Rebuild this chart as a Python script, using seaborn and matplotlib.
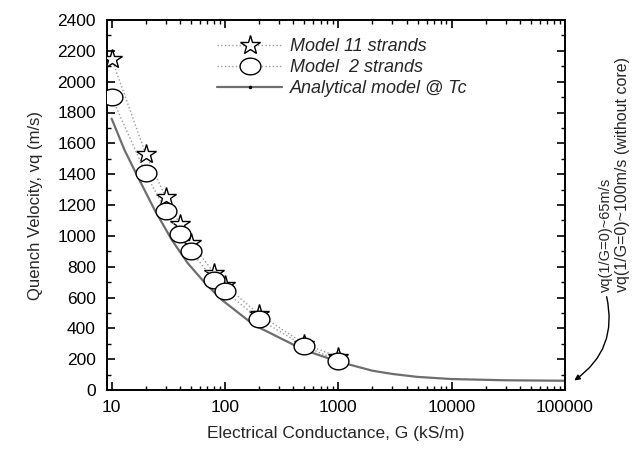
import numpy as np
import pandas as pd
import matplotlib
matplotlib.use("Agg")
import matplotlib.pyplot as plt
from matplotlib.lines import Line2D
from matplotlib.ticker import FixedLocator, FixedFormatter, NullFormatter, LogLocator, MultipleLocator
import seaborn as sns

# ---- data ----
g_model = [10, 20, 30, 40, 50, 80, 100, 200, 500, 1000]
vq_11_strands = [2150, 1530, 1250, 1075, 955, 760, 680, 490, 300, 215]
vq_2_strands = [1900, 1405, 1160, 1010, 900, 715, 640, 460, 285, 190]

g_analytical = [10, 13, 17, 24, 34, 47, 67, 94, 180, 500, 1000, 2000, 3000, 5000, 10000, 30000, 100000]
vq_analytical = [1760, 1556, 1383, 1167, 973, 822, 692, 584, 422, 259, 184, 125, 104, 85, 71, 63, 60]

x_ticks = [10, 100, 1000, 10000, 100000]
x_tick_labels = ["10", "100", "1000", "10000", "100000"]
y_ticks = [0, 200, 400, 600, 800, 1000, 1200, 1400, 1600, 1800, 2000, 2200, 2400]
y_tick_labels = [str(v) for v in y_ticks]

series_labels = ["Model 11 strands", "Model  2 strands", "Analytical model @ Tc"]
note_1 = "vq(1/G=0)~65m/s"
note_2 = "vq(1/G=0)~100m/s (without core)"

# ---- style ----
sns.set_style("ticks")
plt.rcParams["font.family"] = ["Liberation Sans", "DejaVu Sans"]

W, H = 632, 449
fig = plt.figure(figsize=(W / 100, H / 100), dpi=100)
ax = fig.add_axes([107 / W, (H - 390) / H, (565 - 107) / W, (390 - 20) / H])

df11 = pd.DataFrame({"G": g_model, "vq": vq_11_strands})
df2 = pd.DataFrame({"G": g_model, "vq": vq_2_strands})
dfa = pd.DataFrame({"G": g_analytical, "vq": vq_analytical})

# ellipse marker (wider than tall)
t = np.linspace(0, 2 * np.pi, 60)
ellipse = list(zip(1.25 * np.cos(t), np.sin(t)))

dot_color = "#9a9a9a"
an_color = "#6e6e6e"

sns.lineplot(data=dfa, x="G", y="vq", ax=ax, color=an_color, lw=1.6,
             sort=False, estimator=None, zorder=2)
sns.lineplot(data=df11, x="G", y="vq", ax=ax, color=dot_color, lw=1.0,
             linestyle=":", marker="*", markersize=15, markerfacecolor="white",
             markeredgecolor="black", markeredgewidth=1.0, sort=False,
             estimator=None, zorder=3)
sns.lineplot(data=df2, x="G", y="vq", ax=ax, color=dot_color, lw=1.0,
             linestyle=":", marker=ellipse, markersize=15, markerfacecolor="white",
             markeredgecolor="black", markeredgewidth=1.0, sort=False,
             estimator=None, zorder=4)

ax.set_xscale("log")
ax.set_xlim(9.1, 100000)
ax.set_ylim(0, 2400)

ax.xaxis.set_major_locator(FixedLocator(x_ticks))
ax.xaxis.set_major_formatter(FixedFormatter(x_tick_labels))
ax.xaxis.set_minor_locator(LogLocator(base=10, subs=np.arange(2, 10)))
ax.xaxis.set_minor_formatter(NullFormatter())
ax.yaxis.set_major_locator(FixedLocator(y_ticks))
ax.yaxis.set_major_formatter(FixedFormatter(y_tick_labels))
ax.yaxis.set_minor_locator(MultipleLocator(100))

ax.tick_params(which="both", direction="in", top=True, right=True, colors="black",
               labelsize=12.5)
ax.tick_params(which="major", length=6, width=1.2)
ax.tick_params(which="minor", length=3, width=1.0)
ax.tick_params(axis="y", pad=8)
ax.tick_params(axis="x", pad=7)
for s in ax.spines.values():
    s.set_visible(True)
    s.set_linewidth(1.4)
    s.set_color("black")

ax.set_xlabel("Electrical Conductance, G (kS/m)", fontsize=12.5, labelpad=8)
ax.set_ylabel("Quench Velocity, vq (m/s)", fontsize=12, labelpad=10)

handles = [
    Line2D([], [], color=dot_color, lw=1.0, linestyle=":", marker="*", markersize=15,
           markerfacecolor="white", markeredgecolor="black", markeredgewidth=1.0),
    Line2D([], [], color=dot_color, lw=1.0, linestyle=":", marker=ellipse, markersize=15,
           markerfacecolor="white", markeredgecolor="black", markeredgewidth=1.0),
    Line2D([], [], color=an_color, lw=1.6, marker=".", markersize=3,
           markerfacecolor="black", markeredgecolor="black"),
]
ax.legend(handles, series_labels, loc="upper left",
          bbox_to_anchor=((217 - 107) / 458, (390 - 38) / 370),
          frameon=False, borderpad=0, borderaxespad=0, handlelength=3.6,
          handletextpad=0.45, labelspacing=0.22,
          prop={"style": "italic", "size": 13})

fig.text(606 / W, (H - 292) / H, note_1, rotation=90, ha="center", va="bottom",
         fontsize=10.5)
fig.text(622 / W, (H - 292) / H, note_2, rotation=90, ha="center", va="bottom",
         fontsize=11.5)
fig.add_artist(matplotlib.patches.FancyArrowPatch(
    posA=(606 / W, (H - 294) / H), posB=(572 / W, (H - 382) / H),
    transform=fig.transFigure, arrowstyle="-|>", mutation_scale=8,
    connectionstyle="arc3,rad=-0.35", color="black", lw=1.0))

fig.savefig("out.png", dpi=100)
